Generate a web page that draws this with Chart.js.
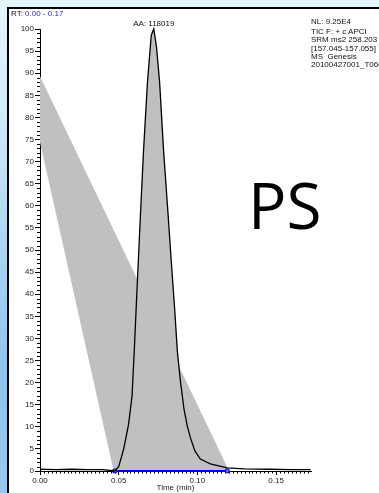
<!DOCTYPE html>
<html>
<head>
<meta charset="utf-8">
<script src="https://cdn.jsdelivr.net/npm/chart.js@4.4.0/dist/chart.umd.min.js"></script>
<style>
  html, body { margin: 0; padding: 0; width: 379px; height: 493px; overflow: hidden; }
  body {
    position: relative;
    font-family: "Liberation Sans", Arial, sans-serif;
    background: linear-gradient(180deg, #e4f5fc 0%, #d2ecf9 22%, #aed6f3 48%, #8fc4ee 75%, #98c9ef 100%);
  }
  #frame {
    position: absolute; left: 7px; top: 7px; width: 420px; height: 520px;
    background: #fff; border-left: 2px solid #000; border-top: 2px solid #000;
  }
  #chart { position: absolute; left: 0; top: 0; }
  .t { position: absolute; font-size: 8px; line-height: 8px; color: #111; white-space: nowrap; }
  #rt { left: 11px; top: 10px; }
  #rt span { color: #2f2fc4; }
  #info { left: 311px; top: 18px; }
  #info div { height: 8.4px; }
  #info div.first { height: 9.8px; }
  #ps { position: absolute; left: 248px; top: 165px; font-family: "Open Sans", "Noto Sans", sans-serif;
        font-size: 64px; line-height: 80px; color: #000; white-space: nowrap; }
</style>
</head>
<body>
<div id="frame"></div>
<canvas id="chart" width="379" height="493"></canvas>
<div class="t" id="rt">RT: <span>0.00 - 0.17</span></div>
<div class="t" id="info">
  <div class="first">NL: 9.25E4</div>
  <div>TIC F: + c APCI</div>
  <div>SRM ms2 258.203</div>
  <div>[157.045-157.055]</div>
  <div>MS &nbsp;Genesis</div>
  <div>20100427001_T060</div>
</div>
<div id="ps">PS</div>
<script>
// Chromatogram trace (time in min, relative abundance in %)
const traceTime = [0.000, 0.010, 0.020, 0.030, 0.040, 0.0475, 0.0500, 0.0532, 0.0563, 0.0585, 0.0600,
  0.0615, 0.0637, 0.0658, 0.0683, 0.0707, 0.0723, 0.0740, 0.0760, 0.0785, 0.0810, 0.0835, 0.0855,
  0.0873, 0.0892, 0.0915, 0.0937, 0.0956, 0.0985, 0.1019, 0.1082, 0.1190, 0.1300, 0.1450, 0.1600, 0.1720];
const traceValue = [0.4, 0.3, 0.4, 0.3, 0.3, 0.0, 1.0, 5.0, 10.6, 17.0, 28.0,
  40.0, 57.0, 72.6, 88.0, 98.6, 100.0, 96.0, 88.0, 72.6, 60.0, 47.0, 37.0,
  27.0, 20.4, 14.0, 10.0, 7.5, 4.5, 2.7, 1.6, 0.7, 0.5, 0.4, 0.3, 0.3];

// Integrated peak: start / end of the detected baseline, apex and area
const peakStart = 0.0475;
const peakEnd = 0.1190;
const apexTime = 0.0723;
const apexValue = 100;
const peakAreaLabel = "AA: 118019";

// Grey gradient band (time, level)
const bandTime = [0.000, 0.1195, 0.0468, 0.000];
const bandLevel = [89.3, 0.5, 0.0, 74.4];

// Axis ranges
const timeRange = [0, 0.1722];
const abundanceRange = [0, 100];

const toPts = (xs, ys) => xs.map((x, i) => ({ x, y: ys[i] }));
const tracePts = toPts(traceTime, traceValue);
const peakPts = tracePts.filter(p => p.x >= peakStart - 1e-9 && p.x <= peakEnd + 1e-9);

const axisDecor = {
  id: 'axisDecor',
  beforeDatasetsDraw(chart) {
    // minor ticks on both axes
    const ctx = chart.ctx;
    const sx = chart.scales.x, sy = chart.scales.y;
    const area = chart.chartArea;
    ctx.save();
    ctx.strokeStyle = '#000';
    ctx.lineWidth = 1;
    ctx.beginPath();
    for (let v = abundanceRange[0]; v <= abundanceRange[1]; v++) {
      if (v % 5 === 0) continue;
      const y = Math.round(sy.getPixelForValue(v)) + 0.5;
      ctx.moveTo(area.left - 3, y);
      ctx.lineTo(area.left, y);
    }
    const step = 0.0025;
    for (let i = 0; i * step <= timeRange[1] + 1e-9; i++) {
      if (i % 20 === 0) continue;
      const x = Math.round(sx.getPixelForValue(i * step)) + 0.5;
      ctx.moveTo(x, area.bottom);
      ctx.lineTo(x, area.bottom + 2.5);
    }
    ctx.stroke();
    ctx.restore();
  },
  afterDraw(chart) {
    // area label above the apex
    const ctx = chart.ctx;
    const sx = chart.scales.x, sy = chart.scales.y;
    ctx.save();
    ctx.fillStyle = '#111';
    ctx.font = '8px "Liberation Sans", Arial, sans-serif';
    ctx.textAlign = 'center';
    ctx.textBaseline = 'middle';
    ctx.fillText(peakAreaLabel, sx.getPixelForValue(apexTime), sy.getPixelForValue(apexValue) - 5);
    ctx.restore();
  }
};

new Chart(document.getElementById('chart'), {
  type: 'line',
  data: {
    datasets: [
      {
        label: 'trace', data: tracePts, borderColor: '#000', borderWidth: 1.3,
        pointRadius: 0, fill: false, tension: 0, order: 0, clip: false
      },
      {
        label: 'baseline', data: [{ x: peakStart, y: 0 }, { x: peakEnd, y: 0 }],
        borderColor: '#0000ff', borderWidth: 2, pointStyle: 'rect', pointRadius: 2.5,
        pointBackgroundColor: '#6a6aff', pointBorderColor: '#0000ff', pointBorderWidth: 1,
        fill: false, order: 1, clip: false
      },
      {
        label: 'peak', data: peakPts, borderWidth: 0, borderColor: 'rgba(0,0,0,0)',
        backgroundColor: '#c0c0c0', pointRadius: 0, fill: 'origin', order: 2
      },
      {
        label: 'band', data: toPts(bandTime, bandLevel), borderWidth: 0, borderColor: 'rgba(0,0,0,0)',
        backgroundColor: '#c0c0c0', pointRadius: 0, fill: 'shape', order: 3
      }
    ]
  },
  options: {
    responsive: false,
    animation: false,
    devicePixelRatio: 1,
    layout: { padding: { left: 0, top: 29, right: 68, bottom: 0 } },
    plugins: { legend: { display: false }, tooltip: { enabled: false } },
    scales: {
      x: {
        type: 'linear', min: timeRange[0], max: timeRange[1],
        afterFit: s => { s.height = 22; },
        border: { display: true, color: '#000', width: 1 },
        grid: { drawOnChartArea: false, drawTicks: true, tickLength: 4, tickColor: '#000' },
        ticks: {
          stepSize: 0.05, includeBounds: false, autoSkip: false, maxRotation: 0, padding: 1,
          color: '#222', font: { size: 8, family: '"Liberation Sans", Arial, sans-serif' },
          callback: v => Number(v).toFixed(2)
        },
        title: {
          display: true, text: 'Time (min)', color: '#222', padding: { top: 0, bottom: 0 },
          font: { size: 8, family: '"Liberation Sans", Arial, sans-serif' }
        }
      },
      y: {
        type: 'linear', min: abundanceRange[0], max: abundanceRange[1],
        afterFit: s => { s.width = 40; },
        border: { display: true, color: '#000', width: 1 },
        grid: { drawOnChartArea: false, drawTicks: true, tickLength: 5, tickColor: '#000' },
        ticks: {
          stepSize: 5, padding: 1, color: '#222',
          font: { size: 8, family: '"Liberation Sans", Arial, sans-serif' }
        }
      }
    }
  },
  plugins: [axisDecor]
});
</script>
</body>
</html>
